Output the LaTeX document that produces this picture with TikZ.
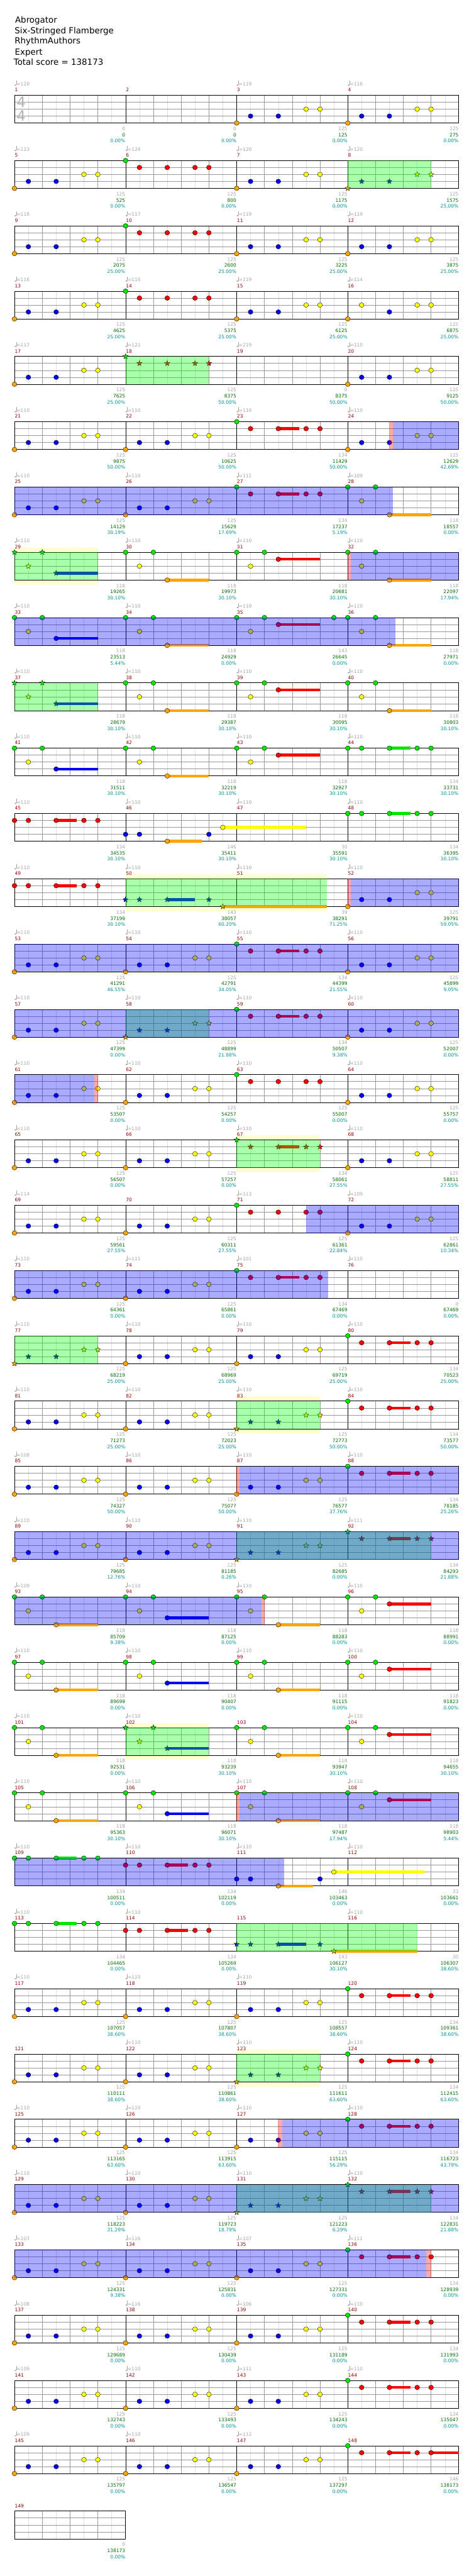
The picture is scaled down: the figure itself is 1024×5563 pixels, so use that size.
\documentclass[tikz,border=0pt]{standalone}
\usepackage{fontspec}
\setmainfont{DejaVu Sans}
\usetikzlibrary{shapes.geometric}

\definecolor{lane0}{RGB}{0,230,0}
\definecolor{lane1}{RGB}{255,0,0}
\definecolor{lane2}{RGB}{255,255,0}
\definecolor{lane3}{RGB}{0,0,245}
\definecolor{lane4}{RGB}{255,165,0}
\definecolor{gridlight}{RGB}{222,222,222}
\definecolor{griddark}{RGB}{153,153,153}
\definecolor{tempogray}{RGB}{165,165,165}
\definecolor{mnumred}{RGB}{150,0,0}
\definecolor{cumgreen}{RGB}{0,110,0}
\definecolor{pcteal}{RGB}{0,150,150}
\definecolor{bandyellow}{RGB}{255,255,210}

\tikzset{
  hdrtext/.style={font=\fontsize{18.2}{22}\selectfont, inner sep=0},
  lbltext/.style={font=\fontsize{10.2}{12}\selectfont, inner sep=0},
  tempotext/.style={lbltext, text=tempogray},
  mnum/.style={lbltext, text=mnumred},
  scoretext/.style={lbltext, text=tempogray},
  cumtext/.style={lbltext, text=cumgreen},
  pcttext/.style={lbltext, text=pcteal},
  timesig/.style={font=\fontsize{31}{31}\selectfont, text=tempogray!85, inner sep=0},
  eighthline/.style={draw=gridlight, line width=0.6},
  quarterline/.style={draw=griddark, line width=0.6},
  stringline/.style={draw=griddark, line width=0.8},
  barline/.style={draw=black, line width=0.6},
  staffframe/.style={draw=black, line width=1.1},
  notehead/.style={draw=black, line width=0.5},
  starnote/.style={star, star points=5, star point ratio=2.3, minimum size=12pt,
    inner sep=0, draw=black, line width=0.5},
  spband/.style={fill=bandyellow},
  spphrase/.style={fill={rgb,255:red,0;green,255;blue,0}, fill opacity=0.333},
  spactive/.style={fill=blue, fill opacity=0.333},
  spstart/.style={fill=red, fill opacity=0.333}
}

% note patterns: position/lane/sustain/type
\def\pA#1{0/4/0/#1,1/3/0/#1,3/3/0/#1,5/2/0/#1,6/2/0/#1}
\def\pB#1{0/0/0/#1,1/1/0/#1,3/1/0/#1,5/1/0/#1,6/1/0/#1}
\def\pC#1{0/0/0/#1,1/1/0/#1,3/1/1.5/#1,5/1/0/#1,6/1/0/#1}
\def\pD#1#2{0/0/0/#2,1/2/0/#2,2/0/0/#2,3/#1/3/#2}
\def\pE{0/0/0/n,1/0/0/n,3/0/1.5/n,5/0/0/n,6/0/0/n}
\def\pF{0/1/0/n,1/1/0/n,3/1/1.5/n,5/1/0/n,6/1/0/n}

\newcommand\staff[2]{%
  \pgfmathsetmacro\ty{205.7+141*#1}
  \pgfmathsetmacro\xe{31.3+240*#2}
  \pgfmathtruncatemacro\nend{8*#2-1}
  \fill[white] (31.3,\ty) rectangle (\xe,\ty+60);
  \foreach \k in {1,3,...,\nend} \draw[eighthline] ({31.3+\k*30},\ty) -- ++(0,60);
  \foreach \j in {15,30,45} \draw[stringline] (31.3,\ty+\j) -- (\xe,\ty+\j);
  \foreach \k in {2,4,...,\nend} {
    \pgfmathtruncatemacro\km{mod(\k,8)}
    \ifnum\km=0 \draw[barline] ({31.3+\k*30},\ty) -- ++(0,60);
    \else \draw[quarterline] ({31.3+\k*30},\ty) -- ++(0,60); \fi
  }
  \draw[staffframe] (31.3,\ty) rectangle (\xe,\ty+60);
}

\newcommand\M[6]{%
  \pgfmathtruncatemacro\rr{(#1-1)/4}
  \pgfmathtruncatemacro\cc{#1-1-4*\rr}
  \pgfmathsetmacro\xa{31.3+240*\cc}
  \pgfmathsetmacro\ty{205.7+141*\rr}
  \if\relax\detokenize{#2}\relax\else
    \fill[tempogray] (\xa+1.8,\ty-21.8) ellipse [x radius=2.2pt, y radius=1.5pt];
    \draw[tempogray, line width=0.7] (\xa+3.7,\ty-21.8) -- (\xa+3.7,\ty-31.5);
    \node[tempotext, anchor=base west] (tp#1) at (\xa+4.4,\ty-20.7) {=#2};
  \fi
  \node[mnum, anchor=base west] (mn#1) at (\xa+0.5,\ty-7.7) {#1};
  \node[scoretext, anchor=base east] (sc#1) at (\xa+239.5,\ty+76) {#3};
  \node[cumtext, anchor=base east] (cu#1) at (\xa+239.5,\ty+89.3) {#4};
  \node[pcttext, anchor=base east] (pc#1) at (\xa+239.5,\ty+102.3) {#5};
  \edef\notelist{#6}
  \ifx\notelist\empty\else
  \foreach \np/\nl/\ns/\nt in \notelist {
    \pgfmathsetmacro\nx{\xa+\np*30}
    \pgfmathsetmacro\ny{\ty+\nl*15}
    \ifdim\ns pt>0pt \fill[lane\nl] (\nx,\ny-3) rectangle ({\nx+\ns*30},\ny+3); \fi
    \if s\nt \node[starnote, fill=lane\nl] at (\nx,\ny) {};
    \else \filldraw[notehead, fill=lane\nl] (\nx,\ny) ellipse [x radius=5.2pt, y radius=5pt]; \fi
  }
  \fi
}

\begin{document}
\begin{tikzpicture}[x=1pt, y=-1pt]
\useasboundingbox[fill=white] (0,0) rectangle (1024,5563);

\node[hdrtext, anchor=base west] (title) at (32.5,49.3) {Abrogator};
\node[hdrtext, anchor=base west] (instr) at (31.5,72) {Six-Stringed Flamberge};
\node[hdrtext, anchor=base west] (charter) at (31.5,95) {RhythmAuthors};
\node[hdrtext, anchor=base west] (diff) at (32,118.3) {Expert};
\node[hdrtext, anchor=base west] (total) at (29.5,141) {Total score = 138173};

\foreach \rw/\a/\b in {7/0/6, 12/8/22.5, 16/16/22, 20/16/22, 25/8/14, 30/16/22} {
  \pgfmathsetmacro\ty{205.7+141*\rw}
  \fill[spband] ({31.3+\a*30},\ty-10) rectangle ({31.3+\b*30},\ty+70);
}

\foreach \rw in {0,...,36} {\staff{\rw}{4}}
\staff{37}{1}

\node[timesig, anchor=base west] (tsa) at (35.5,232) {4};
\node[timesig, anchor=base west] (tsb) at (35.5,262) {4};

\M{1}{120}{0}{0}{0.00\%}{}
\M{2}{}{0}{0}{0.00\%}{}
\M{3}{119}{125}{125}{0.00\%}{\pA n}
\M{4}{116}{125}{275}{0.00\%}{\pA n}
\M{5}{123}{125}{525}{0.00\%}{\pA n}
\M{6}{124}{125}{800}{0.00\%}{\pB n}
\M{7}{120}{125}{1175}{0.00\%}{\pA n}
\M{8}{120}{125}{1575}{25.00\%}{\pA s}
\M{9}{118}{125}{2075}{25.00\%}{\pA n}
\M{10}{117}{125}{2600}{25.00\%}{\pB n}
\M{11}{119}{125}{3225}{25.00\%}{\pA n}
\M{12}{119}{125}{3875}{25.00\%}{\pA n}
\M{13}{116}{125}{4625}{25.00\%}{\pA n}
\M{14}{116}{125}{5375}{25.00\%}{\pB n}
\M{15}{119}{125}{6125}{25.00\%}{\pA n}
\M{16}{114}{125}{6875}{25.00\%}{0/4/0/n,1/2/0/n,3/3/0/n,5/2/0/n,6/2/0/n}
\M{17}{117}{125}{7625}{25.00\%}{\pA n}
\M{18}{121}{125}{8375}{50.00\%}{\pB s}
\M{19}{219}{0}{8375}{50.00\%}{}
\M{20}{110}{125}{9125}{50.00\%}{\pA n}
\M{21}{110}{125}{9875}{50.00\%}{\pA n}
\M{22}{110}{125}{10625}{50.00\%}{\pA n}
\M{23}{110}{134}{11429}{50.00\%}{\pC n}
\M{24}{110}{125}{12629}{42.69\%}{\pA n}
\M{25}{110}{125}{14129}{30.19\%}{\pA n}
\M{26}{110}{125}{15629}{17.69\%}{\pA n}
\M{27}{111}{134}{17237}{5.19\%}{\pC n}
\M{28}{109}{118}{18557}{0.00\%}{\pD4n}
\M{29}{110}{118}{19265}{30.10\%}{\pD3s}
\M{30}{110}{118}{19973}{30.10\%}{\pD4n}
\M{31}{110}{118}{20681}{30.10\%}{\pD1n}
\M{32}{110}{118}{22097}{17.94\%}{\pD4n}
\M{33}{110}{118}{23513}{5.44\%}{\pD3n}
\M{34}{110}{118}{24929}{0.00\%}{\pD4n}
\M{35}{110}{143}{26645}{0.00\%}{\pD1n,7/0/0/n}
\M{36}{110}{118}{27971}{0.00\%}{\pD4n}
\M{37}{110}{118}{28679}{30.10\%}{\pD3s}
\M{38}{110}{118}{29387}{30.10\%}{\pD4n}
\M{39}{110}{118}{30095}{30.10\%}{\pD1n}
\M{40}{110}{118}{30803}{30.10\%}{\pD4n}
\M{41}{110}{118}{31511}{30.10\%}{\pD3n}
\M{42}{110}{118}{32219}{30.10\%}{\pD4n}
\M{43}{110}{118}{32927}{30.10\%}{\pD1n}
\M{44}{110}{134}{33731}{30.10\%}{\pE}
\M{45}{110}{134}{34535}{30.10\%}{\pF}
\M{46}{110}{146}{35411}{30.10\%}{0/3/0/n,1/3/0/n,3/4/2.5/n,6/3/0/n,7/2/6/n}
\M{47}{110}{30}{35591}{30.10\%}{}
\M{48}{110}{134}{36395}{30.10\%}{\pE}
\M{49}{110}{134}{37199}{30.10\%}{\pF}
\M{50}{110}{143}{38057}{60.20\%}{0/3/0/s,1/3/0/s,3/3/2/s,6/3/0/s,7/4/7.5/s}
\M{51}{110}{39}{38291}{71.25\%}{}
\M{52}{110}{125}{39791}{59.05\%}{\pA n}
\M{53}{110}{125}{41291}{46.55\%}{\pA n}
\M{54}{110}{125}{42791}{34.05\%}{\pA n}
\M{55}{110}{134}{44399}{21.55\%}{\pC n}
\M{56}{110}{125}{45899}{9.05\%}{\pA n}
\M{57}{110}{125}{47399}{0.00\%}{\pA n}
\M{58}{110}{125}{48899}{21.88\%}{\pA s}
\M{59}{110}{134}{50507}{9.38\%}{\pC n}
\M{60}{110}{125}{52007}{0.00\%}{\pA n}
\M{61}{110}{125}{53507}{0.00\%}{\pA n}
\M{62}{110}{125}{54257}{0.00\%}{\pA n}
\M{63}{110}{125}{55007}{0.00\%}{\pB n}
\M{64}{110}{125}{55757}{0.00\%}{\pA n}
\M{65}{110}{125}{56507}{0.00\%}{\pA n}
\M{66}{110}{125}{57257}{0.00\%}{\pA n}
\M{67}{110}{134}{58061}{27.55\%}{\pC s}
\M{68}{110}{125}{58811}{27.55\%}{\pA n}
\M{69}{114}{125}{59561}{27.55\%}{\pA n}
\M{70}{}{125}{60311}{27.55\%}{\pA n}
\M{71}{113}{125}{61361}{22.84\%}{\pB n}
\M{72}{109}{125}{62861}{10.34\%}{\pA n}
\M{73}{110}{125}{64361}{0.00\%}{\pA n}
\M{74}{111}{125}{65861}{0.00\%}{\pA n}
\M{75}{101}{134}{67469}{0.00\%}{\pC n}
\M{76}{110}{0}{67469}{0.00\%}{}
\M{77}{110}{125}{68219}{25.00\%}{\pA s}
\M{78}{110}{125}{68969}{25.00\%}{\pA n}
\M{79}{110}{125}{69719}{25.00\%}{\pA n}
\M{80}{110}{134}{70523}{25.00\%}{\pC n}
\M{81}{110}{125}{71273}{25.00\%}{\pA n}
\M{82}{110}{125}{72023}{25.00\%}{\pA n}
\M{83}{110}{125}{72773}{50.00\%}{\pA s}
\M{84}{110}{134}{73577}{50.00\%}{\pC n}
\M{85}{108}{125}{74327}{50.00\%}{\pA n}
\M{86}{110}{125}{75077}{50.00\%}{\pA n}
\M{87}{110}{125}{76577}{37.76\%}{\pA n}
\M{88}{110}{134}{78185}{25.26\%}{\pC n}
\M{89}{110}{125}{79685}{12.76\%}{\pA n}
\M{90}{110}{125}{81185}{0.26\%}{\pA n}
\M{91}{110}{125}{82685}{0.00\%}{\pA s}
\M{92}{111}{134}{84293}{21.88\%}{\pC s}
\M{93}{109}{118}{85709}{9.38\%}{\pD4n}
\M{94}{110}{118}{87125}{0.00\%}{\pD3n}
\M{95}{110}{118}{88283}{0.00\%}{\pD4n}
\M{96}{110}{118}{88991}{0.00\%}{\pD1n}
\M{97}{110}{118}{89699}{0.00\%}{\pD4n}
\M{98}{110}{118}{90407}{0.00\%}{\pD3n}
\M{99}{110}{118}{91115}{0.00\%}{\pD4n}
\M{100}{110}{118}{91823}{0.00\%}{\pD1n}
\M{101}{110}{118}{92531}{0.00\%}{\pD4n}
\M{102}{110}{118}{93239}{30.10\%}{\pD3s}
\M{103}{}{118}{93947}{30.10\%}{\pD4n}
\M{104}{110}{118}{94655}{30.10\%}{\pD1n}
\M{105}{110}{118}{95363}{30.10\%}{\pD4n}
\M{106}{110}{118}{96071}{30.10\%}{\pD3n}
\M{107}{110}{118}{97487}{17.94\%}{\pD4n}
\M{108}{110}{118}{98903}{5.44\%}{\pD1n}
\M{109}{110}{134}{100511}{0.00\%}{\pE}
\M{110}{110}{134}{102119}{0.00\%}{\pF}
\M{111}{110}{146}{103463}{0.00\%}{0/3/0/n,1/3/0/n,3/4/2.5/n,6/3/0/n,7/2/6.5/n}
\M{112}{110}{33}{103661}{0.00\%}{}
\M{113}{110}{134}{104465}{0.00\%}{\pE}
\M{114}{110}{134}{105269}{0.00\%}{\pF}
\M{115}{}{143}{106127}{30.10\%}{0/3/0/s,1/3/0/s,3/3/2/s,6/3/0/s,7/4/6/s}
\M{116}{110}{30}{106307}{38.60\%}{}
\M{117}{110}{125}{107057}{38.60\%}{\pA n}
\M{118}{110}{125}{107807}{38.60\%}{\pA n}
\M{119}{110}{125}{108557}{38.60\%}{\pA n}
\M{120}{}{134}{109361}{38.60\%}{\pC n}
\M{121}{}{125}{110111}{38.60\%}{\pA n}
\M{122}{110}{125}{110861}{38.60\%}{\pA n}
\M{123}{110}{125}{111611}{63.60\%}{\pA s}
\M{124}{110}{134}{112415}{63.60\%}{\pC n}
\M{125}{110}{125}{113165}{63.60\%}{\pA n}
\M{126}{110}{125}{113915}{63.60\%}{\pA n}
\M{127}{110}{125}{115115}{56.29\%}{\pA n}
\M{128}{110}{134}{116723}{43.79\%}{\pC n}
\M{129}{110}{125}{118223}{31.29\%}{\pA n}
\M{130}{110}{125}{119723}{18.79\%}{\pA n}
\M{131}{110}{125}{121223}{6.29\%}{\pA s}
\M{132}{110}{134}{122831}{21.88\%}{\pC s}
\M{133}{107}{125}{124331}{9.38\%}{\pA n}
\M{134}{116}{125}{125831}{0.00\%}{\pA n}
\M{135}{107}{125}{127331}{0.00\%}{\pA n}
\M{136}{111}{134}{128939}{0.00\%}{\pC n}
\M{137}{108}{125}{129689}{0.00\%}{\pA n}
\M{138}{116}{125}{130439}{0.00\%}{\pA n}
\M{139}{106}{125}{131189}{0.00\%}{\pA n}
\M{140}{110}{134}{131993}{0.00\%}{\pC n}
\M{141}{109}{125}{132743}{0.00\%}{\pA n}
\M{142}{110}{125}{133493}{0.00\%}{\pA n}
\M{143}{111}{125}{134243}{0.00\%}{\pA n}
\M{144}{110}{134}{135047}{0.00\%}{\pC n}
\M{145}{109}{125}{135797}{0.00\%}{\pA n}
\M{146}{110}{125}{136547}{0.00\%}{\pA n}
\M{147}{112}{125}{137297}{0.00\%}{\pA n}
\M{148}{}{146}{138173}{0.00\%}{0/0/0/n,1/1/0/n,3/1/1.5/n,5/1/0/n,6/1/2/n}
\M{149}{}{0}{138173}{0.00\%}{}

\foreach \rw/\a/\b in {1/24/30, 4/8/14, 7/0/6, 9/0/6, 12/8/22.5, 14/8/14, 16/16/22,
    19/0/6, 20/16/22, 22/16/30, 25/8/14, 28/16/29, 30/16/22, 32/16/30} {
  \pgfmathsetmacro\ty{205.7+141*\rw}
  \fill[spphrase] ({31.3+\a*30},\ty) rectangle ({31.3+\b*30},\ty+60);
}
\foreach \rw/\a/\b in {5/27.26/32, 6/0/27.26, 7/24.22/32, 8/0/27.43, 12/24.2/32, 13/0/32,
    14/0/32, 15/0/5.75, 17/21/32, 18/0/22.57, 21/16.2/32, 22/0/32, 23/0/17.78,
    26/16.2/32, 27/0/19.44, 31/19.27/32, 32/0/32, 33/0/29.65} {
  \pgfmathsetmacro\ty{205.7+141*\rw}
  \fill[spactive] ({31.3+\a*30},\ty) rectangle ({31.3+\b*30},\ty+60);
}
\foreach \rw/\a/\b in {5/27/27.26, 7/24/24.22, 12/24/24.2, 15/5.75/6, 21/16/16.2,
    23/17.78/18.03, 26/16/16.2, 31/18.98/19.27, 33/29.65/30} {
  \pgfmathsetmacro\ty{205.7+141*\rw}
  \fill[spstart] ({31.3+\a*30},\ty) rectangle ({31.3+\b*30},\ty+60);
}
\end{tikzpicture}
\end{document}
